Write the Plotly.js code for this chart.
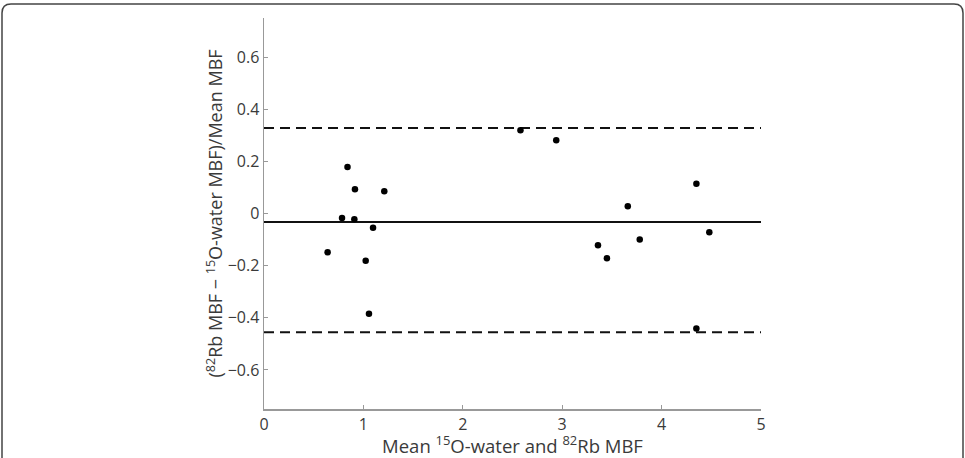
<!DOCTYPE html>
<html>
<head>
<meta charset="utf-8">
<script src="https://cdn.plot.ly/plotly-3.0.1.min.js"></script>
<style>html,body{margin:0;padding:0;background:#fff;}#chart{width:965px;height:458px;}</style>
</head>
<body>
<div id="chart"></div>
<script>
// Data (Bland-Altman style plot)
const meanMBF = [0.64, 0.785, 0.84, 0.909, 0.915, 1.023, 1.056, 1.097, 1.21, 2.58, 2.94, 3.36, 3.45, 3.66, 3.78, 4.35, 4.35, 4.48];
const relDiff = [-0.149, -0.017, 0.178, -0.022, 0.093, -0.181, -0.385, -0.055, 0.085, 0.319, 0.281, -0.122, -0.172, 0.028, -0.100, 0.114, -0.441, -0.072];
const meanDifference = -0.033;
const upperLimit = 0.328;
const lowerLimit = -0.456;
const lineXRange = [0, 5];
const xTicks = [0, 1, 2, 3, 4, 5];
const yTicks = [-0.6, -0.4, -0.2, 0, 0.2, 0.4, 0.6];
const yTickText = ['−0.6', '−0.4', '−0.2', '0', '0.2', '0.4', '0.6'];

const fontFam = '"Open Sans", "Noto Sans", sans-serif';

const traces = [
  {x: lineXRange, y: [upperLimit, upperLimit], mode: 'lines', line: {color: '#111', width: 2, dash: '10px,6px'}, hoverinfo: 'skip'},
  {x: lineXRange, y: [lowerLimit, lowerLimit], mode: 'lines', line: {color: '#111', width: 2, dash: '10px,6px'}, hoverinfo: 'skip'},
  {x: lineXRange, y: [meanDifference, meanDifference], mode: 'lines', line: {color: '#111', width: 2}, hoverinfo: 'skip'},
  {x: meanMBF, y: relDiff, mode: 'markers', marker: {color: '#000', size: 6.5}}
];

// rounded outer frame in paper coords
const L = 264, R = 761, T = 18, B = 409;
const W = R - L, H = B - T;
function px(x){ return (x - L) / W; }
function py(y){ return (B - y) / H; }
const fx0 = 2, fx1 = 963, fy0 = 4, fy1 = 475, rr = 9;
const framePath = 'M ' + px(fx0) + ',' + py(fy1) +
  ' L ' + px(fx0) + ',' + py(fy0 + rr) +
  ' Q ' + px(fx0) + ',' + py(fy0) + ' ' + px(fx0 + rr) + ',' + py(fy0) +
  ' L ' + px(fx1 - rr) + ',' + py(fy0) +
  ' Q ' + px(fx1) + ',' + py(fy0) + ' ' + px(fx1) + ',' + py(fy0 + rr) +
  ' L ' + px(fx1) + ',' + py(fy1);

const layout = {
  width: 965, height: 458,
  margin: {l: L, r: 965 - R, t: T, b: 458 - B},
  paper_bgcolor: '#fff', plot_bgcolor: '#fff',
  showlegend: false,
  font: {family: fontFam, size: 16, color: '#3a3a3a'},
  xaxis: {
    range: [0, 5], tickvals: xTicks, ticks: 'inside', ticklen: 4, tickcolor: '#999',
    showline: true, linecolor: '#999', linewidth: 1.5, showgrid: false, zeroline: false,
    tickfont: {size: 16, color: '#3a3a3a'},
    title: {text: 'Mean <sup>15</sup>O-water and <sup>82</sup>Rb MBF', font: {size: 18.5, color: '#3a3a3a'}, standoff: 15},
    automargin: false
  },
  yaxis: {
    range: [-0.75, 0.75], tickvals: yTicks, ticktext: yTickText,
    ticks: 'inside', ticklen: 4, tickcolor: '#999',
    showline: true, linecolor: '#999', linewidth: 1.5, showgrid: false, zeroline: false,
    tickfont: {size: 16, color: '#3a3a3a'},
    title: {text: '(<sup>82</sup>Rb MBF − <sup>15</sup>O-water MBF)/Mean MBF', font: {size: 18, color: '#3a3a3a'}, standoff: 0},
    automargin: false
  },
  shapes: [
    {type: 'path', xref: 'paper', yref: 'paper', path: framePath, line: {color: '#444', width: 1.5}, layer: 'above'}
  ]
};

Plotly.newPlot('chart', traces, layout, {staticPlot: true, displayModeBar: false});
</script>
</body>
</html>
